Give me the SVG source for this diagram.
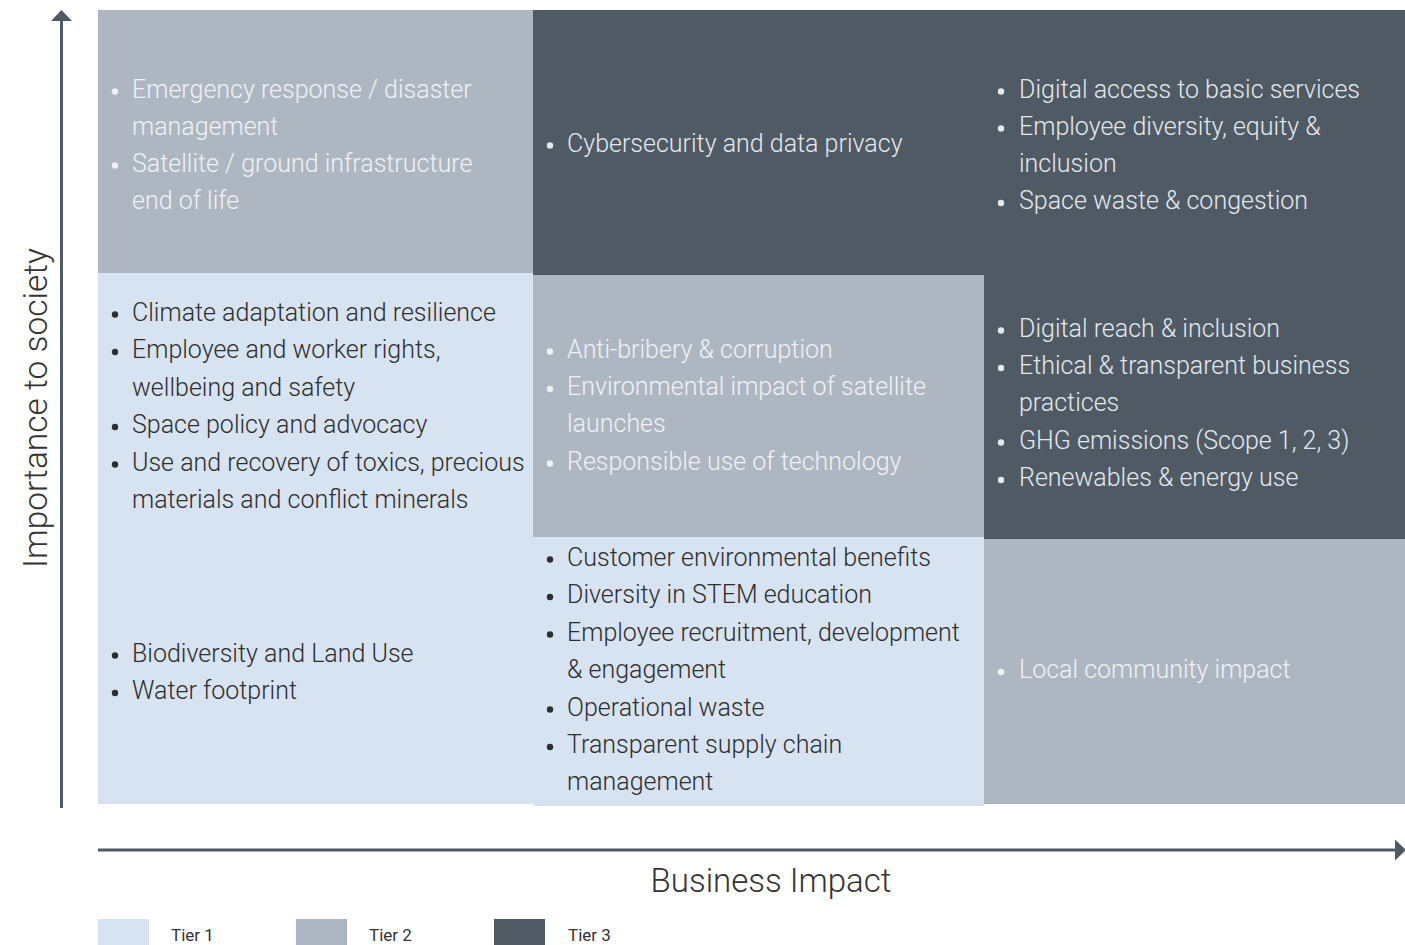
<svg xmlns="http://www.w3.org/2000/svg" width="1405" height="945" viewBox="0 0 1405 945">
<style>
  .t1{fill:#d7e3f1}
  .t2{fill:#aeb7c1}
  .t3{fill:#4f5a65}
  text{font-family:Roboto,"Liberation Sans",sans-serif;font-weight:300}
  .item{font-size:25px}
  .d{fill:#2e2e2e}
  .l2{fill:#eef1f5}
  .l3{fill:#e4e8ec}
  .axis{stroke:#4f5a65;stroke-width:3;fill:none}
  .head{fill:#4f5a65}
  .leg{font-size:17px;font-weight:400;fill:#333}
</style>
<rect width="1405" height="945" fill="#ffffff"/>

<g id="cell-c1r1">
  <rect class="t2" x="98" y="10" width="435" height="263"/>
  <g class="l2">
    <circle cx="115" cy="91.5" r="3.2"/><circle cx="115" cy="165.5" r="3.2"/>
    <text class="item l2" x="132" y="97.5">Emergency response / disaster</text>
    <text class="item l2" x="132" y="134.5">management</text>
    <text class="item l2" x="132" y="171.5">Satellite / ground infrastructure</text>
    <text class="item l2" x="132" y="209">end of life</text>
  </g>
</g>

<g id="cell-c1r23">
  <rect class="t1" x="98" y="273" width="435" height="531"/>
  <g class="d">
    <circle cx="115" cy="314.5" r="3.2"/><circle cx="115" cy="352" r="3.2"/><circle cx="115" cy="427" r="3.2"/><circle cx="115" cy="464.5" r="3.2"/>
    <circle cx="115" cy="655.5" r="3.2"/><circle cx="115" cy="693" r="3.2"/>
    <text class="item d" x="132" y="320.5">Climate adaptation and resilience</text>
    <text class="item d" x="132" y="358">Employee and worker rights,</text>
    <text class="item d" x="132" y="395.5">wellbeing and safety</text>
    <text class="item d" x="132" y="433">Space policy and advocacy</text>
    <text class="item d" x="132" y="470.5">Use and recovery of toxics, precious</text>
    <text class="item d" x="132" y="508">materials and conflict minerals</text>
    <text class="item d" x="132" y="661.5">Biodiversity and Land Use</text>
    <text class="item d" x="132" y="699">Water footprint</text>
  </g>
</g>

<g id="cell-top-right">
  <rect class="t3" x="533" y="10" width="872" height="265"/>
  <g class="l3">
    <circle cx="550" cy="145.5" r="3.2"/>
    <text class="item l3" x="567" y="151.5">Cybersecurity and data privacy</text>
    <circle cx="1001" cy="91.5" r="3.2"/><circle cx="1001" cy="128.5" r="3.2"/><circle cx="1001" cy="203" r="3.2"/>
    <text class="item l3" x="1019" y="97.5">Digital access to basic services</text>
    <text class="item l3" x="1019" y="134.5">Employee diversity, equity &amp;</text>
    <text class="item l3" x="1019" y="171.5">inclusion</text>
    <text class="item l3" x="1019" y="209">Space waste &amp; congestion</text>
  </g>
</g>

<g id="cell-c2r2">
  <rect class="t2" x="533" y="275" width="451" height="262"/>
  <g class="l2">
    <circle cx="550" cy="351.5" r="3.2"/><circle cx="550" cy="389" r="3.2"/><circle cx="550" cy="463.5" r="3.2"/>
    <text class="item l2" x="567" y="357.5">Anti-bribery &amp; corruption</text>
    <text class="item l2" x="567" y="395">Environmental impact of satellite</text>
    <text class="item l2" x="567" y="432">launches</text>
    <text class="item l2" x="567" y="469.5">Responsible use of technology</text>
  </g>
</g>

<g id="cell-c3r2">
  <rect class="t3" x="984" y="275" width="421" height="264"/>
  <g class="l3">
    <circle cx="1001" cy="330.5" r="3.2"/><circle cx="1001" cy="368" r="3.2"/><circle cx="1001" cy="442.5" r="3.2"/><circle cx="1001" cy="480" r="3.2"/>
    <text class="item l3" x="1019" y="336.5">Digital reach &amp; inclusion</text>
    <text class="item l3" x="1019" y="374">Ethical &amp; transparent business</text>
    <text class="item l3" x="1019" y="411">practices</text>
    <text class="item l3" x="1019" y="448.5">GHG emissions (Scope 1, 2, 3)</text>
    <text class="item l3" x="1019" y="486">Renewables &amp; energy use</text>
  </g>
</g>

<g id="cell-c2r3">
  <rect class="t1" x="533" y="537" width="451" height="269"/>
  <g class="d">
    <circle cx="550" cy="559.5" r="3.2"/><circle cx="550" cy="597" r="3.2"/><circle cx="550" cy="634.5" r="3.2"/><circle cx="550" cy="709.5" r="3.2"/><circle cx="550" cy="747" r="3.2"/>
    <text class="item d" x="567" y="565.5">Customer environmental benefits</text>
    <text class="item d" x="567" y="603">Diversity in STEM education</text>
    <text class="item d" x="567" y="640.5">Employee recruitment, development</text>
    <text class="item d" x="567" y="678">&amp; engagement</text>
    <text class="item d" x="567" y="715.5">Operational waste</text>
    <text class="item d" x="567" y="753">Transparent supply chain</text>
    <text class="item d" x="567" y="790">management</text>
  </g>
</g>

<g id="cell-c3r3">
  <rect class="t2" x="984" y="539" width="421" height="265"/>
  <circle class="l2" cx="1001" cy="672" r="3.2"/>
  <text class="item l2" x="1019" y="678">Local community impact</text>
</g>

<g id="axes">
  <line class="axis" x1="61.5" y1="808" x2="61.5" y2="20"/>
  <polygon class="head" points="61.5,10 72,21 51,21"/>
  <line class="axis" x1="98" y1="850" x2="1396" y2="850"/>
  <polygon class="head" points="1406,850 1395,839.5 1395,860.5"/>
</g>

<g id="axis-labels">
  <text x="0" y="0" transform="translate(47,408) rotate(-90)" text-anchor="middle" font-size="33.5" fill="#333">Importance to society</text>
  <text x="771" y="892" text-anchor="middle" font-size="33" fill="#333">Business Impact</text>
</g>

<g id="legend">
  <rect class="t1" x="98" y="919" width="51" height="26"/>
  <text class="leg" x="171" y="941">Tier 1</text>
  <rect class="t2" x="296" y="919" width="51" height="26"/>
  <text class="leg" x="369" y="941">Tier 2</text>
  <rect class="t3" x="494" y="919" width="51" height="26"/>
  <text class="leg" x="568" y="941">Tier 3</text>
</g>
</svg>
